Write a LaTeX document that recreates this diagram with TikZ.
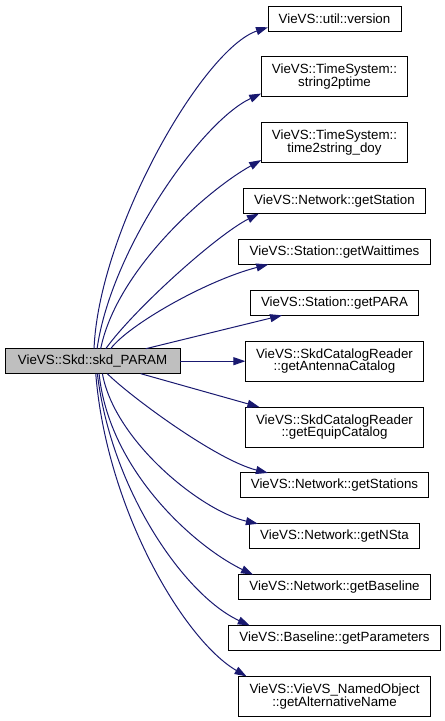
\documentclass[tikz,border=0pt]{standalone}
\usepackage{fontspec}
\setmainfont{Liberation Sans}
\usetikzlibrary{arrows.meta, positioning}
\definecolor{edgeblue}{RGB}{25,25,112}

\begin{document}
\begin{tikzpicture}[
  x=0.75pt, y=-0.75pt,
  node distance=19.4pt and 49pt,
  callee/.style={draw, fill=white, line width=0.75pt, outer sep=0pt,
                 inner xsep=8pt, inner ysep=2pt, minimum height=18.75pt,
                 align=center, font=\fontsize{10}{9.5}\selectfont},
  calleetwo/.style={callee, minimum height=30pt},
  caller/.style={callee, fill=black!25, minimum width=131.25pt},
  arrow/.style={-{Triangle[length=9pt, width=6pt]}, line width=0.75pt, color=edgeblue},
]
\useasboundingbox (0,0) rectangle (445,721);

\node[callee] (ver) at (334.5,18.5) {VieVS::util::version};
\node[calleetwo, below=of ver]  (s2p)  {VieVS::TimeSystem::\\string2ptime};
\node[calleetwo, below=of s2p]  (t2s)  {VieVS::TimeSystem::\\time2string\_doy};
\node[callee,    below=of t2s]  (gst)  {VieVS::Network::getStation};
\node[callee,    below=of gst]  (gwt)  {VieVS::Station::getWaittimes};
\node[callee,    below=of gwt]  (gpa)  {VieVS::Station::getPARA};
\node[calleetwo, below=of gpa]  (ant)  {VieVS::SkdCatalogReader\\::getAntennaCatalog};
\node[calleetwo, below=of ant]  (equ)  {VieVS::SkdCatalogReader\\::getEquipCatalog};
\node[callee,    below=of equ]  (gsts) {VieVS::Network::getStations};
\node[callee,    below=of gsts] (nsta) {VieVS::Network::getNSta};
\node[callee,    below=of nsta] (bsl)  {VieVS::Network::getBaseline};
\node[callee,    below=of bsl]  (par)  {VieVS::Baseline::getParameters};
\node[calleetwo, below=of par]  (alt)  {VieVS::VieVS\_NamedObject\\::getAlternativeName};
\node[caller,    left=of ant]   (skd)  {VieVS::Skd::skd\_PARAM};

\draw[arrow] ([xshift=1.1pt]skd.north) .. controls +(5,-119) and +(-65,21.7) .. ([yshift=2.8pt]ver.south west);
\draw[arrow] ([xshift=3.4pt]skd.north) .. controls +(14,-99) and +(-60,28) .. ([yshift=2.5pt]s2p.south west);
\draw[arrow] ([xshift=6.1pt]skd.north) .. controls +(16,-79) and +(-54,30) .. ([yshift=2pt]t2s.south west);
\draw[arrow] ([xshift=9.9pt]skd.north) .. controls +(28,-39) and +(-43,22) .. ([xshift=11.5pt]gst.south west);
\draw[arrow] ([xshift=13.6pt]skd.north) .. controls +(18,-24) and +(-62,16) .. ([xshift=22pt]gwt.south west);
\draw[arrow] ([xshift=39.9pt]skd.north) -- ([xshift=23.8pt]gpa.south west);
\draw[arrow] (skd) -- (ant);
\draw[arrow] ([xshift=36.2pt]skd.south) -- ([xshift=10.5pt]equ.north west);
\draw[arrow] ([xshift=11.1pt]skd.south) .. controls +(22,22) and +(-52,-13) .. ([xshift=20.8pt]gsts.north west);
\draw[arrow] ([xshift=7.4pt]skd.south) .. controls +(12,67) and +(-57,-13) .. ([xshift=6.3pt]nsta.north west);
\draw[arrow] ([xshift=4.9pt]skd.south) .. controls +(10,97) and +(-58,-28) .. ([xshift=10.7pt]bsl.north west);
\draw[arrow] ([xshift=3.6pt]skd.south) .. controls +(14,117) and +(-65,-30) .. ([xshift=15.8pt]par.north west);
\draw[arrow] ([xshift=2.4pt]skd.south) .. controls +(11,137) and +(-62,-36) .. ([xshift=5.8pt]alt.north west);
\end{tikzpicture}
\end{document}
